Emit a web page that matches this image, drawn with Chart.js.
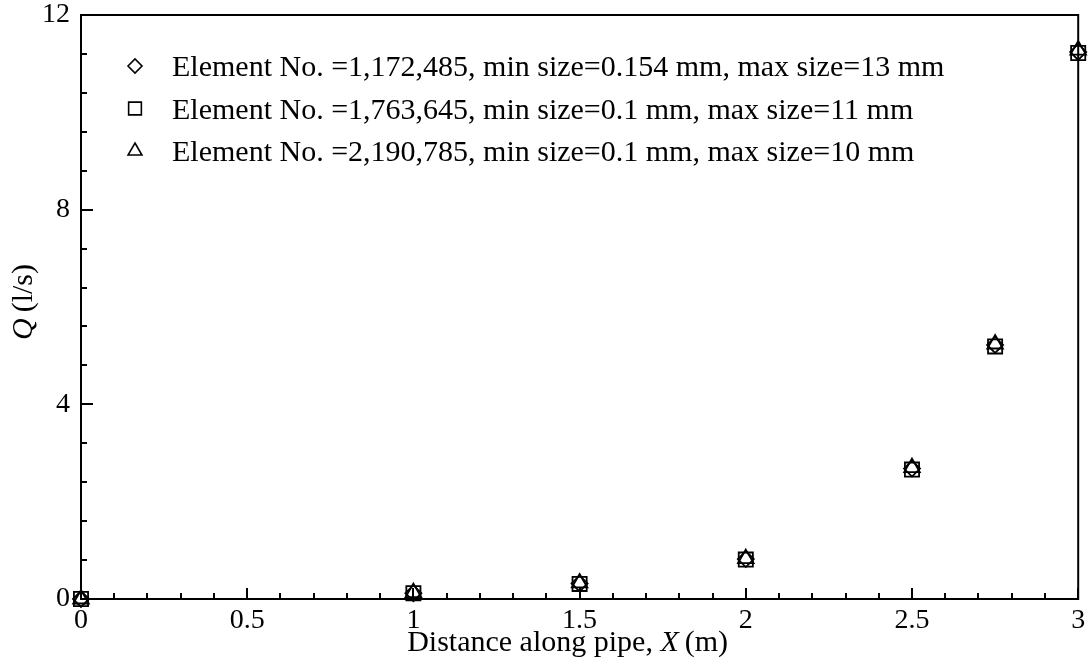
<!DOCTYPE html>
<html>
<head>
<meta charset="UTF-8">
<script src="https://cdn.jsdelivr.net/npm/chart.js@4/dist/chart.umd.min.js"></script>
<style>
  body { margin: 0; background: #fff; }
</style>
</head>
<body>
<canvas id="qChart" width="1090" height="661"></canvas>
<script>
// flow rate along the pipe for three mesh resolutions
var xValues = [0, 1, 1.5, 2, 2.5, 2.75, 3];
var meshA = [0, 0.12, 0.32, 0.82, 2.68, 5.22, 11.24];
var meshB = [0, 0.12, 0.31, 0.81, 2.66, 5.19, 11.22];
var meshC = [0, 0.13, 0.33, 0.83, 2.70, 5.24, 11.28];
var meshNames = [
  'Element No. =1,172,485, min size=0.154 mm, max size=13 mm',
  'Element No. =1,763,645, min size=0.1 mm, max size=11 mm',
  'Element No. =2,190,785, min size=0.1 mm, max size=10 mm'
];
// axis titles, [text, italic]
var xTitle = [['Distance along pipe, ', false], ['X', true], ['\u2009(m)', false]];
var yTitle = [['Q', true], ['\u2009(l/s)', false]];

var FONT = "'Liberation Serif', 'Times New Roman', serif";
Chart.defaults.font.family = FONT;
Chart.defaults.font.size = 28;
Chart.defaults.color = '#000';

function pts(ys) {
  return xValues.map(function (x, i) { return { x: x, y: ys[i] }; });
}
function near(v, step) {
  return Math.abs(v / step - Math.round(v / step)) < 1e-6;
}

function drawRuns(ctx, runs, x, y, size) {
  var total = 0;
  runs.forEach(function (r) {
    ctx.font = (r[1] ? 'italic ' : '') + size + 'px ' + FONT;
    total += ctx.measureText(r[0]).width;
  });
  var cx = x - total / 2;
  runs.forEach(function (r) {
    ctx.font = (r[1] ? 'italic ' : '') + size + 'px ' + FONT;
    ctx.fillText(r[0], cx, y);
    cx += ctx.measureText(r[0]).width;
  });
}

// box frame, inward ticks, legend and axis titles
var decor = {
  id: 'decor',
  afterDraw: function (chart) {
    var ctx = chart.ctx, a = chart.chartArea;
    var xs = chart.scales.x, ys = chart.scales.y;
    ctx.save();
    ctx.strokeStyle = '#000';
    ctx.fillStyle = '#000';
    ctx.lineWidth = 2;
    ctx.strokeRect(a.left, a.top, a.right - a.left, a.bottom - a.top);

    ctx.beginPath();
    xs.ticks.forEach(function (t) {
      var px = Math.round(xs.getPixelForValue(t.value));
      var len = near(t.value, 0.5) ? 11 : 6;
      ctx.moveTo(px, a.bottom);
      ctx.lineTo(px, a.bottom - len);
    });
    ys.ticks.forEach(function (t) {
      var py = Math.round(ys.getPixelForValue(t.value));
      var len = near(t.value, 4) ? 12 : 6;
      ctx.moveTo(a.left, py);
      ctx.lineTo(a.left + len, py);
    });
    ctx.stroke();

    // legend
    var mx = a.left + 54, my = a.top + 51, gap = 42.5;
    chart.data.datasets.forEach(function (ds, i) {
      var cy = my + i * gap;
      ctx.fillStyle = '#fff';
      ctx.strokeStyle = '#000';
      ctx.lineWidth = 1.6;
      Chart.helpers.drawPoint(ctx, {
        pointStyle: ds.pointStyle,
        radius: ds.legendRadius,
        borderWidth: 1.6,
        rotation: 0
      }, mx, cy);
      ctx.fillStyle = '#000';
      ctx.font = '30px ' + FONT;
      ctx.textBaseline = 'alphabetic';
      ctx.textAlign = 'left';
      ctx.fillText(ds.label, mx + 37, cy + 10);
    });

    // axis titles
    ctx.fillStyle = '#000';
    ctx.textAlign = 'left';
    ctx.textBaseline = 'alphabetic';
    drawRuns(ctx, xTitle, (a.left + a.right) / 2 - 12, 651, 30);
    ctx.translate(32, (a.top + a.bottom) / 2 - 5);
    ctx.rotate(-Math.PI / 2);
    drawRuns(ctx, yTitle, 0, 0, 30);
    ctx.restore();
  }
};

function series(label, data, style, r, lr) {
  return {
    label: label,
    data: pts(data),
    pointStyle: style,
    pointRadius: r,
    pointHoverRadius: r,
    legendRadius: lr,
    pointBorderWidth: 1.8,
    pointBorderColor: '#000',
    pointBackgroundColor: 'rgba(255,255,255,0)',
    showLine: false,
    clip: false
  };
}

new Chart(document.getElementById('qChart'), {
  type: 'scatter',
  data: {
    datasets: [
      series(meshNames[0], meshA, 'rectRot', 8, 7),
      series(meshNames[1], meshB, 'rect', 10, 9),
      series(meshNames[2], meshC, 'triangle', 9, 8)
    ]
  },
  plugins: [decor],
  options: {
    responsive: false,
    animation: false,
    devicePixelRatio: 1,
    layout: { padding: { top: 15, right: 10, left: 0, bottom: 0 } },
    plugins: { legend: { display: false }, tooltip: { enabled: false } },
    scales: {
      x: {
        type: 'linear',
        min: 0, max: 3,
        grid: { display: false },
        border: { display: false },
        ticks: {
          stepSize: 0.1,
          autoSkip: false,
          maxRotation: 0,
          padding: -3,
          callback: function (v) { return near(v, 0.5) ? String(Math.round(v * 2) / 2) : ''; }
        },
        afterFit: function (s) {
          s.height = 62;
          s.paddingLeft = 0;
          s.paddingRight = 0;
        }
      },
      y: {
        min: 0, max: 12,
        grid: { display: false },
        border: { display: false },
        ticks: {
          stepSize: 0.8,
          autoSkip: false,
          padding: 3,
          callback: function (v) { return near(v, 4) ? String(Math.round(v)) : ''; }
        },
        afterFit: function (s) {
          s.width = 81;
          s.paddingTop = 0;
          s.paddingBottom = 0;
        }
      }
    }
  }
});
</script>
</body>
</html>
